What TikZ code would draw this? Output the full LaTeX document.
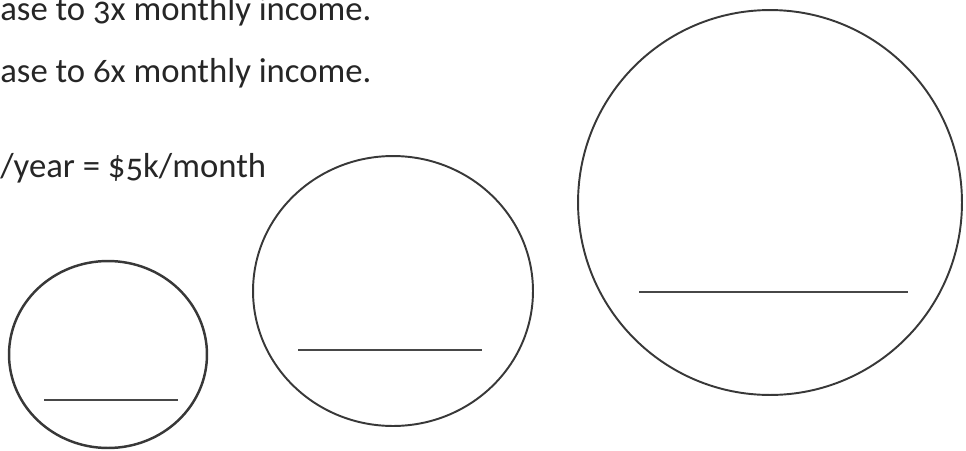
\documentclass[tikz,border=0pt]{standalone}
\usepackage{fontspec}
\setmainfont{Carlito}[Numbers=OldStyle]
\usetikzlibrary{shapes.geometric, positioning}

\begin{document}
\begin{tikzpicture}[
    x=0.02cm, y=-0.02cm, % one unit is one pixel of the scan, y downwards
    note/.style={anchor=base west, inner sep=0pt, text=black!85, font=\fontsize{19.75}{24}\selectfont},
    jar/.style={ellipse, draw=black!78, line width=1.1pt, inner sep=0pt, outer sep=0pt},
    blank/.style={draw=black!72, line width=0.8pt}
]
    \useasboundingbox (0,0) rectangle (966,450);

    % Notes, cut at the left edge of the page
    \node[note] (threex) at (0,20) {ase to 3x monthly income.};
    \node[note] (sixx) at (0,82) {ase to 6x monthly income.};
    \node[note] (salary) at (0,177) {/year = \$5k/month};

    % Three circles, growing from left to right
    \node[jar, line width=1.4pt, minimum width=3.96cm, minimum height=3.74cm] (small) at (108,354.5) {};
    \node[jar, minimum width=5.6cm, minimum height=5.4cm] (medium) at (393,291) {};
    \node[jar, minimum width=7.68cm, minimum height=7.7cm] (large) at (770,202.5) {};

    % Blanks to write on
    \draw[blank, line width=1pt] (44,400) -- (178,400);
    \draw[blank] (298,350) -- (482,350);
    \draw[blank] (639,292) -- (908,292);

\end{tikzpicture}
\end{document}
